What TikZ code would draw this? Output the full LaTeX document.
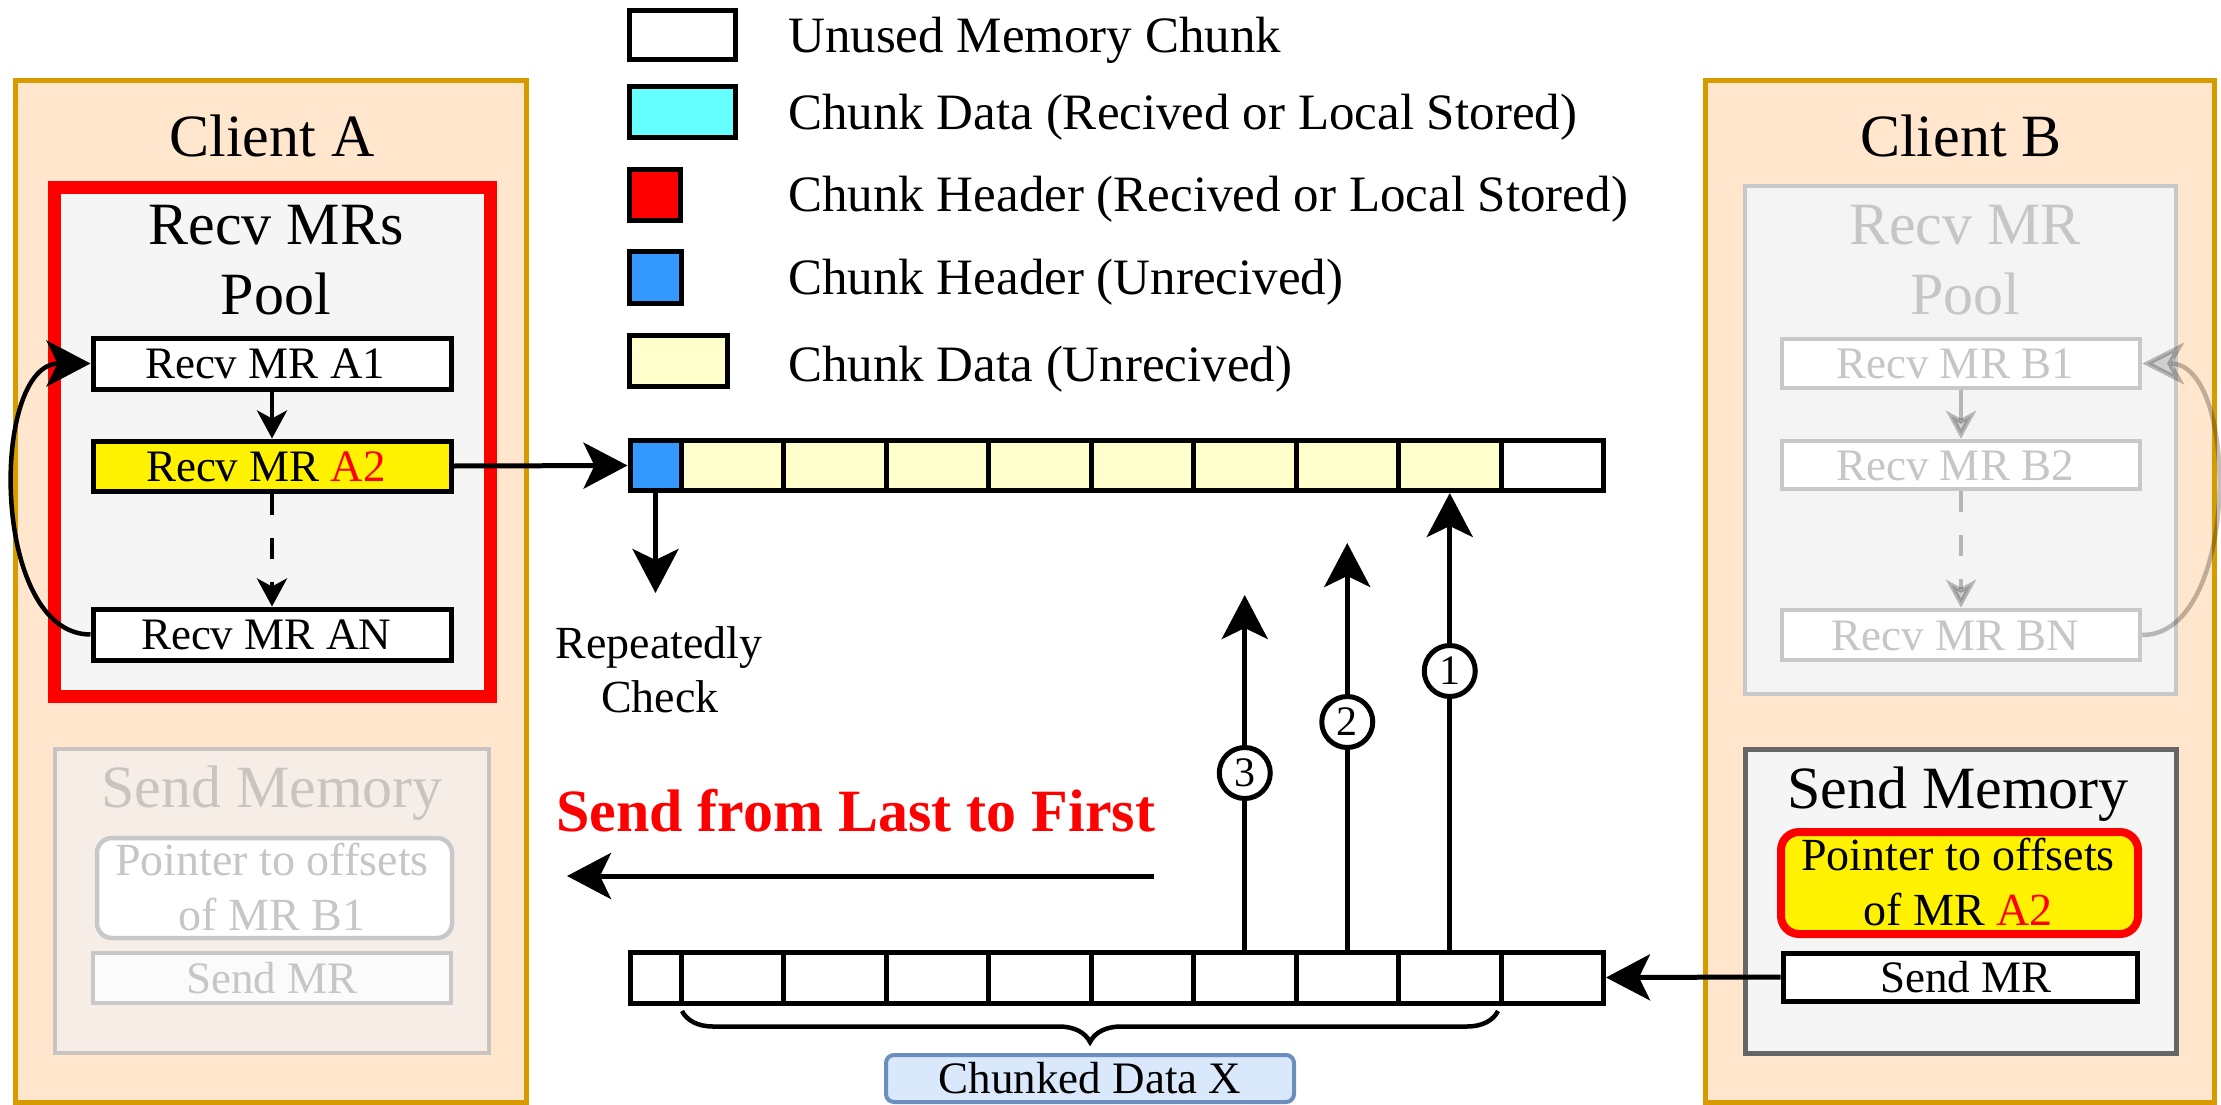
\documentclass[tikz,border=0pt]{standalone}
\usepackage{fontspec}
\setmainfont{Liberation Serif}
\usetikzlibrary{arrows.meta,decorations.pathreplacing}

\definecolor{clientfill}{HTML}{FFE6CC}
\definecolor{clientline}{HTML}{D79B00}
\definecolor{poolfill}{HTML}{F5F5F5}
\definecolor{sendline}{HTML}{666666}
\definecolor{hdrblue}{HTML}{3399FF}
\definecolor{datacyan}{HTML}{66FFFF}
\definecolor{datayellow}{HTML}{FFFFCC}
\definecolor{chunkfill}{HTML}{DAE8FC}
\definecolor{chunkline}{HTML}{6C8EBF}
\definecolor{fadeline}{HTML}{C8C8C8}
\definecolor{fadetext}{HTML}{C6C6C6}
\definecolor{fadefill}{HTML}{F6EEE6}
\definecolor{fadeline2}{HTML}{C9C4BF}
\definecolor{fadepool}{HTML}{F4F4F4}
\definecolor{fadetip}{HTML}{CFCFCF}

\tikzset{
  bigtext/.style={font=\fontsize{60}{72}\selectfont, inner sep=0pt, anchor=base},
  midtext/.style={font=\fontsize{46}{55}\selectfont, inner sep=0pt, anchor=base},
  legtext/.style={font=\fontsize{51}{60}\selectfont, inner sep=0pt, anchor=base west},
  mrbox/.style={draw, line width=5pt, fill=white, minimum width=358pt, inner sep=0pt,
    font=\fontsize{45}{54}\selectfont, text height=30pt, text depth=0pt},
  fadebox/.style={draw=fadeline, text=fadetext, line width=4.5pt, fill=white, minimum width=358pt,
    inner sep=0pt, font=\fontsize{45}{54}\selectfont, text height=30pt, text depth=0pt},
  cell/.style={draw, line width=5pt, inner sep=0pt, minimum width=102.5pt},
  legbox/.style={draw, line width=5pt, inner sep=0pt},
  bigarrow/.style={line width=5pt, -{Stealth[length=44pt, width=46pt, inset=11pt]}},
  smallarrow/.style={line width=4.5pt, -{Stealth[length=28pt, width=30pt, inset=8pt]}},
  fadearrow/.style={line width=4.5pt, draw=black, draw opacity=0.25,
    -{Stealth[length=28pt, width=30pt, inset=8pt, fill=fadetip]}},
  fadeloop/.style={line width=4.5pt, draw=black, draw opacity=0.25,
    -{Stealth[length=42pt, width=42pt, inset=12pt, fill=fadetip]}},
  num/.style={circle, draw, line width=5pt, fill=white, minimum size=51pt, inner sep=0pt,
    font=\fontsize{42}{50}\selectfont},
}

\begin{document}
\begin{tikzpicture}[x=1pt, y=-1pt]
\useasboundingbox (0,0) rectangle (2221,1105);

% ---------- client frames ----------
\node[draw=clientline, fill=clientfill, line width=5pt, minimum width=511pt, minimum height=1021pt,
      inner sep=0pt] (clientA) at (270.5, 591.5) {};
\node[draw=clientline, fill=clientfill, line width=5pt, minimum width=509pt, minimum height=1021pt,
      inner sep=0pt] (clientB) at (1959.5, 591.5) {};
\node[bigtext] (clientAlbl) at (272, 157) {Client A};
\node[bigtext] (clientBlbl) at (1961, 157) {Client B};

% ---------- client A: receive pool ----------
\node[draw=red, line width=13pt, fill=poolfill, minimum width=436pt, minimum height=509pt,
      inner sep=0pt] (poolA) at (272.5, 442) {};
\node[bigtext] (poolAl1) at (276, 244) {Recv MRs};
\node[bigtext] (poolAl2) at (276, 314) {Pool};
\node[mrbox, minimum height=51pt] (A1) at (272, 363.5) {Recv MR A1\kern14pt};
\node[mrbox, minimum height=50pt, fill=yellow] (A2) at (272, 466) {Recv MR \textcolor{red}{A2}\kern12pt};
\node[mrbox, minimum height=51pt] (AN) at (272, 634.5) {Recv MR AN\kern12pt};
\draw[smallarrow] (A1.south) -- (A2.north);
\draw[smallarrow, dash pattern=on 21pt off 23pt] (A2.south) -- (AN.north);
\draw[bigarrow, line width=4.5pt] (AN.west) .. controls (-10, 634.5) and (-10, 363.5) .. (A1.west);

% ---------- client A: send memory (inactive) ----------
\node[draw=fadeline2, fill=fadefill, line width=4.5pt, minimum width=434pt, minimum height=304pt,
      inner sep=0pt] (sendA) at (272, 901) {};
\node[bigtext, text=fadeline2] (sendAl) at (272, 807) {Send Memory};
\node[draw=fadeline, fill=white, line width=4.5pt, rounded corners=15pt, minimum width=355pt,
      minimum height=100pt, inner sep=0pt] (ptrA) at (274.5, 888) {};
\node[midtext, text=fadetext] (ptrAl1) at (272, 875) {Pointer to offsets};
\node[midtext, text=fadetext] (ptrAl2) at (272, 930) {of MR B1};
\node[fadebox, fill=white!60!poolfill, minimum height=50pt] (sendMRA) at (272, 978) {Send MR};

% ---------- client B: receive pool (inactive) ----------
\node[draw=fadeline, fill=fadepool, line width=4.5pt, minimum width=431pt, minimum height=508pt,
      inner sep=0pt] (poolB) at (1960.5, 440) {};
\node[bigtext, text=fadetext] (poolBl1) at (1965, 244) {Recv MR};
\node[bigtext, text=fadetext] (poolBl2) at (1965, 314) {Pool};
\node[fadebox, minimum height=49pt] (B1) at (1961, 363.5) {Recv MR B1\kern12pt};
\node[fadebox, minimum height=48pt] (B2) at (1961, 465) {Recv MR B2\kern12pt};
\node[fadebox, minimum height=50pt] (BN) at (1961, 635) {Recv MR BN\kern12pt};
\draw[fadearrow] (B1.south) -- (B2.north);
\draw[fadearrow, dash pattern=on 21pt off 23pt] (B2.south) -- (BN.north);
\draw[fadeloop] (BN.east) .. controls (2240, 635) and (2240, 363.5) .. (B1.east);

% ---------- client B: send memory ----------
\node[draw=sendline, fill=poolfill, line width=5pt, minimum width=431pt, minimum height=304pt,
      inner sep=0pt] (sendB) at (1960.5, 901) {};
\node[bigtext] (sendBl) at (1958, 808) {Send Memory};
\node[draw=red, fill=yellow, line width=8pt, rounded corners=18pt, minimum width=357pt,
      minimum height=102pt, inner sep=0pt] (ptrB) at (1959.5, 883) {};
\node[midtext] (ptrBl1) at (1958, 870) {Pointer to offsets};
\node[midtext] (ptrBl2) at (1958, 925) {of MR \textcolor{red}{A2}};
\node[mrbox, minimum width=354pt, minimum height=48pt] (sendMRB) at (1960, 977) {\kern12pt Send MR};

% ---------- legend ----------
\node[legbox, fill=white, minimum width=106pt, minimum height=49pt] (lg1) at (682, 35.5) {};
\node[legbox, fill=datacyan, minimum width=106pt, minimum height=51pt] (lg2) at (682, 112.5) {};
\node[legbox, fill=red, minimum width=51pt, minimum height=51pt] (lg3) at (654.5, 194.5) {};
\node[legbox, fill=hdrblue, minimum width=52pt, minimum height=52pt] (lg4) at (655, 277) {};
\node[legbox, fill=datayellow, minimum width=98pt, minimum height=51pt] (lg5) at (678, 360.5) {};
\node[legtext] (lt1) at (788, 53) {Unused Memory Chunk};
\node[legtext] (lt2) at (788, 129) {Chunk Data (Recived or Local Stored)};
\node[legtext] (lt3) at (788, 211) {Chunk Header (Recived or Local Stored)};
\node[legtext] (lt4) at (788, 294) {Chunk Header (Unrecived)};
\node[legtext] (lt5) at (788, 381) {Chunk Data (Unrecived)};

% ---------- receive buffer (top bar) ----------
\node[cell, fill=hdrblue, minimum width=51pt, minimum height=50pt] (t0) at (655.5, 465.5) {};
\foreach \k in {1,...,8}
  \node[cell, fill=datayellow, minimum height=50pt] (t\k) at ({681+102.5*\k-51.25}, 465.5) {};
\node[cell, fill=white, minimum height=50pt] (t9) at (1552.25, 465.5) {};

% ---------- send buffer (bottom bar) ----------
\node[cell, fill=white, minimum width=51pt, minimum height=51pt] (b0) at (655.5, 977.5) {};
\foreach \k in {1,...,9}
  \node[cell, fill=white, minimum height=51pt] (b\k) at ({681+102.5*\k-51.25}, 977.5) {};

% ---------- connectors ----------
\draw[bigarrow] (A2.east) -- (t0.west);
\draw[bigarrow] (sendMRB.west) -- (b9.east);

\coordinate (chk) at (655.5, 593);
\draw[bigarrow] (t0.south) -- (chk);
\node[midtext] (chkl1) at (659, 658) {Repeatedly};
\node[midtext] (chkl2) at (660, 712) {Check};

\coordinate (tip2) at (1347.25, 543);
\coordinate (tip3) at (1244.75, 595);
\draw[bigarrow] (b8.north) -- (t8.south);
\draw[bigarrow] (b7.north) -- (tip2);
\draw[bigarrow] (b6.north) -- (tip3);
\node[num] (n1) at (1449.75, 671) {1};
\node[num] (n2) at (1347.25, 722) {2};
\node[num] (n3) at (1244.75, 773) {3};

\node[font=\fontsize{60}{70}\selectfont\bfseries, text=red, inner sep=0pt, anchor=base west]
  (orderlbl) at (556, 831) {Send from Last to First};
\coordinate (orderS) at (1154, 876);
\coordinate (orderE) at (567, 876);
\draw[bigarrow] (orderS) -- (orderE);

% ---------- chunk range ----------
\coordinate (brL) at (682, 1011);
\coordinate (brR) at (1498, 1011);
\draw[line width=4.5pt, decorate, decoration={brace, mirror, amplitude=31pt}] (brL) -- (brR);
\node[draw=chunkline, fill=chunkfill, line width=4pt, rounded corners=8pt, minimum width=408pt,
      minimum height=47pt, inner sep=0pt, font=\fontsize{45}{54}\selectfont, text height=30pt,
      text depth=0pt] (chunkX) at (1090, 1078.5) {Chunked Data X};
\end{tikzpicture}
\end{document}
